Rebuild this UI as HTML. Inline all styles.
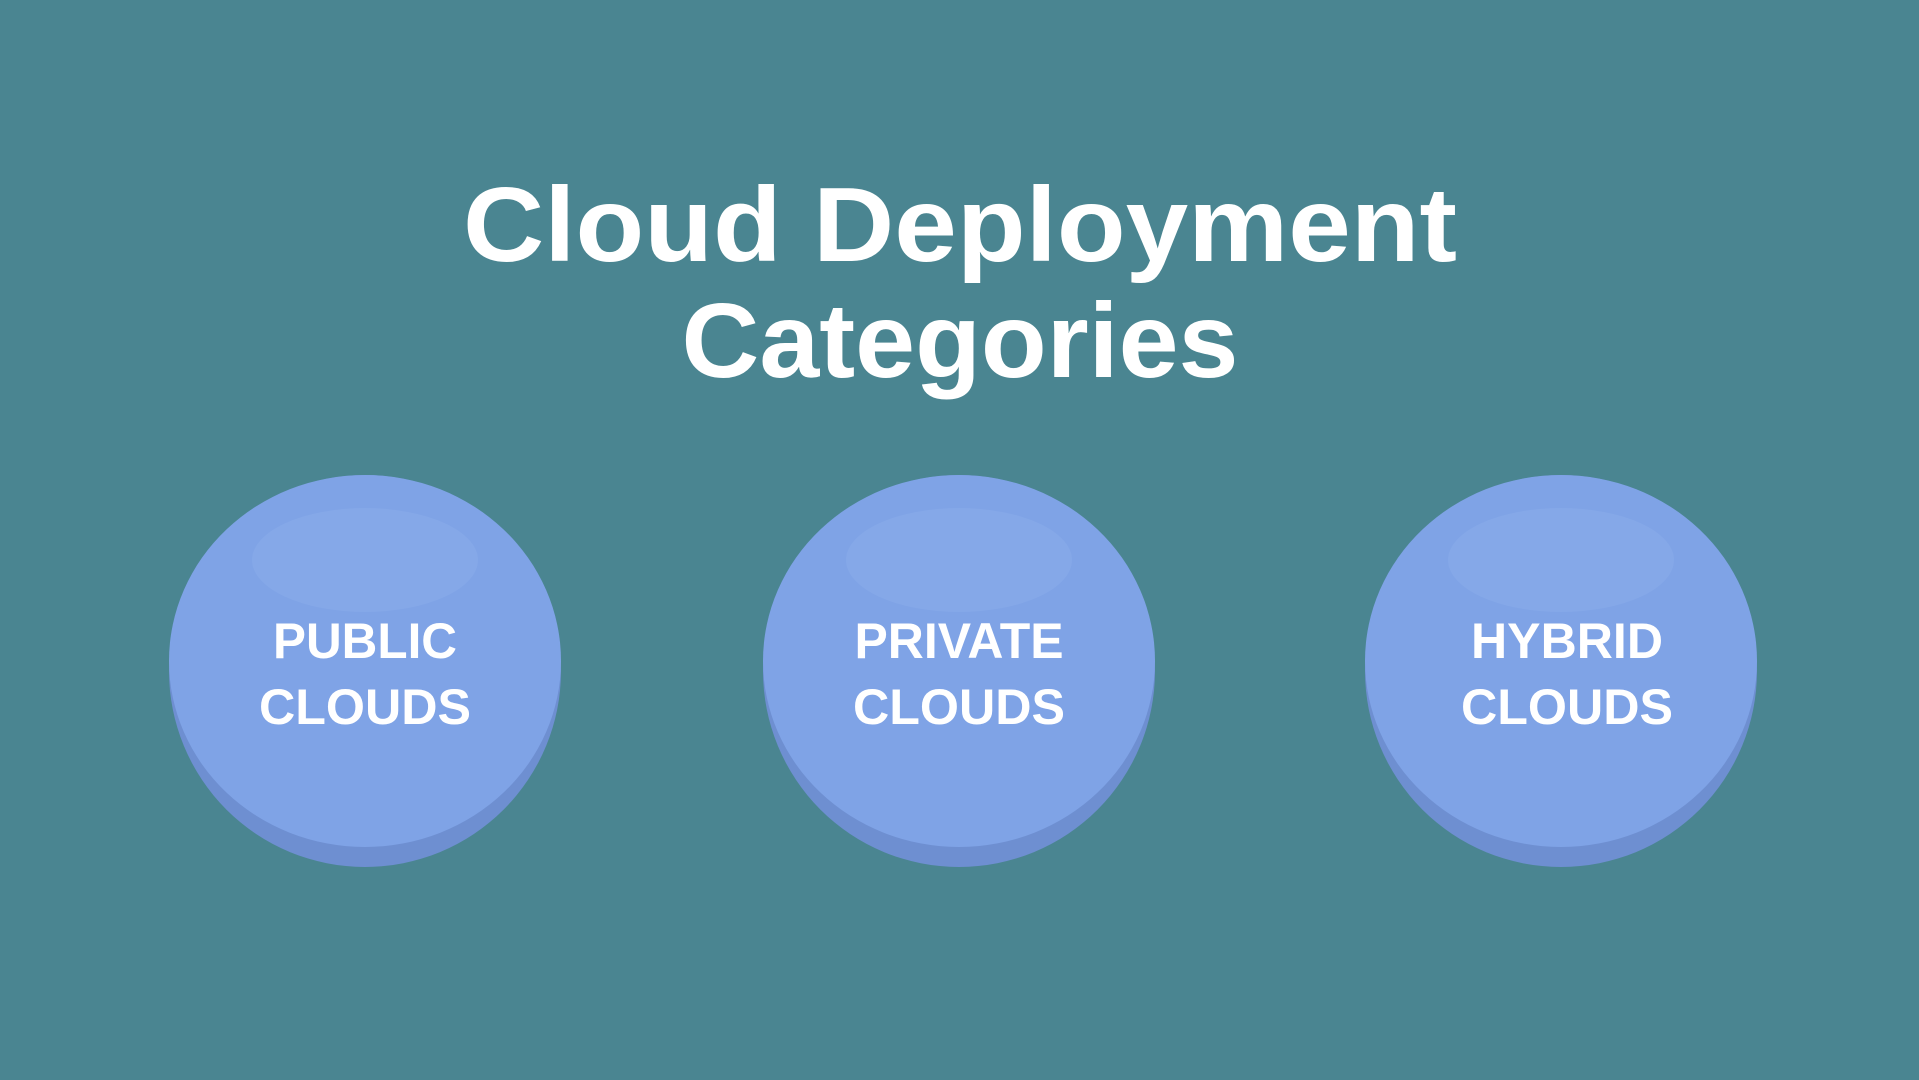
<!DOCTYPE html>
<html><head><meta charset="utf-8"><style>
html,body{margin:0;padding:0;background:#4a8591;}
svg{display:block}
text{font-family:"Liberation Sans",sans-serif;fill:#fff;}
</style></head><body>
<svg width="1919" height="1080" viewBox="0 0 1919 1080">
<rect width="1919" height="1080" fill="#4a8591"/>
<text x="960" y="261" font-size="106" font-weight="bold" text-anchor="middle" textLength="994" lengthAdjust="spacingAndGlyphs">Cloud Deployment</text>
<text x="960" y="377" font-size="106" font-weight="bold" text-anchor="middle" textLength="557" lengthAdjust="spacingAndGlyphs">Categories</text>
<g>
<circle cx="365" cy="671" r="196" fill="#6e8fd1"/>
<ellipse cx="365" cy="661" rx="196" ry="186" fill="#7fa3e6"/>
<ellipse cx="365" cy="560" rx="113" ry="52" fill="#85a8e8"/>
<text x="365" y="658" font-size="50" font-weight="bold" text-anchor="middle" textLength="184" lengthAdjust="spacingAndGlyphs">PUBLIC</text>
<text x="365" y="724" font-size="50" font-weight="bold" text-anchor="middle" textLength="212" lengthAdjust="spacingAndGlyphs">CLOUDS</text>
</g>
<g>
<circle cx="959" cy="671" r="196" fill="#6e8fd1"/>
<ellipse cx="959" cy="661" rx="196" ry="186" fill="#7fa3e6"/>
<ellipse cx="959" cy="560" rx="113" ry="52" fill="#85a8e8"/>
<text x="959" y="658" font-size="50" font-weight="bold" text-anchor="middle" textLength="209" lengthAdjust="spacingAndGlyphs">PRIVATE</text>
<text x="959" y="724" font-size="50" font-weight="bold" text-anchor="middle" textLength="212" lengthAdjust="spacingAndGlyphs">CLOUDS</text>
</g>
<g>
<circle cx="1561" cy="671" r="196" fill="#6e8fd1"/>
<ellipse cx="1561" cy="661" rx="196" ry="186" fill="#7fa3e6"/>
<ellipse cx="1561" cy="560" rx="113" ry="52" fill="#85a8e8"/>
<text x="1567" y="658" font-size="50" font-weight="bold" text-anchor="middle" textLength="192" lengthAdjust="spacingAndGlyphs">HYBRID</text>
<text x="1567" y="724" font-size="50" font-weight="bold" text-anchor="middle" textLength="212" lengthAdjust="spacingAndGlyphs">CLOUDS</text>
</g>
</svg>
</body></html>
